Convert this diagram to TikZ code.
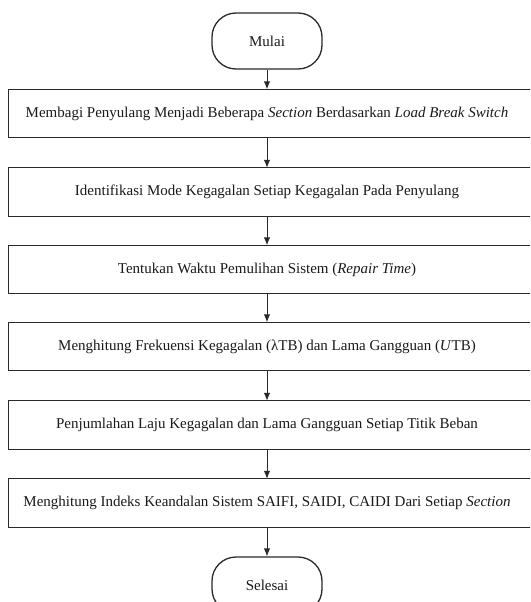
\documentclass[tikz,border=0pt]{standalone}
\usepackage{fontspec}
\setmainfont{Liberation Serif}
\usetikzlibrary{arrows.meta}
\definecolor{lin}{HTML}{2A2A2A}
\definecolor{txt}{HTML}{1A1A1A}
\begin{document}
\begin{tikzpicture}[x=1pt,y=-1pt,
  every node/.style={font=\fontsize{15}{18}\selectfont, text=txt},
  stepbox/.style={minimum width=516pt, minimum height=48pt, inner sep=0pt},
  term/.style={draw=lin, line width=1.3pt, rounded corners=24pt, minimum width=110pt, minimum height=56pt, inner sep=0pt},
  conn/.style={draw=lin, line width=1pt, -{Latex[length=8pt,width=6.5pt]}},
  boxline/.style={draw=lin, line width=1.3pt}]
\useasboundingbox (0,0) rectangle (530,602);
\clip (0,0) rectangle (530,602);
\fill[white] (0,0) rectangle (530,602);
\node[term] (start) at (267,41) {Mulai};
\node[stepbox] (b1) at (267,113.5) {Membagi Penyulang Menjadi Beberapa \textit{Section} Berdasarkan \textit{Load Break Switch}};
\node[stepbox] (b2) at (267,192) {Identifikasi Mode Kegagalan Setiap Kegagalan Pada Penyulang};
\node[stepbox] (b3) at (267,269.5) {Tentukan Waktu Pemulihan Sistem (\textit{Repair Time})};
\node[stepbox] (b4) at (267,346.5) {Menghitung Frekuensi Kegagalan (λTB) dan Lama Gangguan (\textit{U}TB)};
\node[stepbox] (b5) at (267,425) {Penjumlahan Laju Kegagalan dan Lama Gangguan Setiap Titik Beban};
\node[stepbox] (b6) at (267,503) {Menghitung Indeks Keandalan Sistem SAIFI, SAIDI, CAIDI Dari Setiap \textit{Section}};
\node[term] (end) at (267,585) {Selesai};
\foreach \n in {b1,b2,b3,b4,b5,b6}
  \draw[boxline] (\n.south west) rectangle ([xshift=14pt]\n.north east);
\draw[conn] (start) -- (b1);
\draw[conn] (b1) -- (b2);
\draw[conn] (b2) -- (b3);
\draw[conn] (b3) -- (b4);
\draw[conn] (b4) -- (b5);
\draw[conn] (b5) -- (b6);
\draw[conn] (b6) -- (end);
\end{tikzpicture}
\end{document}
